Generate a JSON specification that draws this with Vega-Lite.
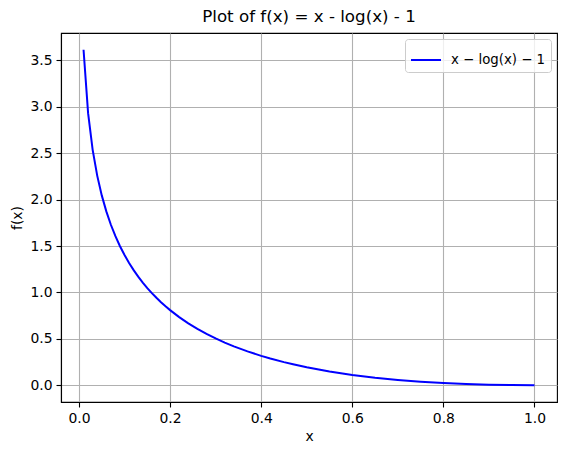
{
  "$schema": "https://vega.github.io/schema/vega-lite/v6.json",
  "width": 496,
  "height": 369,
  "autosize": {"type": "none"},
  "padding": {"left": 61, "top": 33, "right": 10, "bottom": 53},
  "background": "white",
  "title": {"text": "Plot of f(x) = x - log(x) - 1", "font": "DejaVu Sans", "fontSize": 16.7, "fontWeight": "normal", "color": "black", "offset": 7, "anchor": "middle"},
  "config": {
    "view": {"stroke": "black", "strokeWidth": 1.1},
    "axis": {
      "labelFont": "DejaVu Sans", "labelFontSize": 13.9, "labelColor": "black",
      "titleFont": "DejaVu Sans", "titleFontSize": 13.9, "titleFontWeight": "normal", "titleColor": "black",
      "tickColor": "black", "tickSize": 5, "tickWidth": 1.1, "labelPadding": 4,
      "domainColor": "black", "domainWidth": 1.1,
      "grid": true, "gridColor": "#b0b0b0", "gridWidth": 1.1, "titlePadding": 5
    }
  },
  "data": {"values": [
    {"x": 0.01, "y": 3.61517, "s": "x − log(x) − 1"},
    {"x": 0.02, "y": 2.93202, "s": "x − log(x) − 1"},
    {"x": 0.03, "y": 2.53656, "s": "x − log(x) − 1"},
    {"x": 0.04, "y": 2.25888, "s": "x − log(x) − 1"},
    {"x": 0.05, "y": 2.04573, "s": "x − log(x) − 1"},
    {"x": 0.06, "y": 1.87341, "s": "x − log(x) − 1"},
    {"x": 0.07, "y": 1.72926, "s": "x − log(x) − 1"},
    {"x": 0.08, "y": 1.60573, "s": "x − log(x) − 1"},
    {"x": 0.09, "y": 1.49795, "s": "x − log(x) − 1"},
    {"x": 0.10, "y": 1.40259, "s": "x − log(x) − 1"},
    {"x": 0.11, "y": 1.31727, "s": "x − log(x) − 1"},
    {"x": 0.12, "y": 1.24026, "s": "x − log(x) − 1"},
    {"x": 0.13, "y": 1.17022, "s": "x − log(x) − 1"},
    {"x": 0.14, "y": 1.10611, "s": "x − log(x) − 1"},
    {"x": 0.15, "y": 1.04712, "s": "x − log(x) − 1"},
    {"x": 0.16, "y": 0.99258, "s": "x − log(x) − 1"},
    {"x": 0.17, "y": 0.94196, "s": "x − log(x) − 1"},
    {"x": 0.18, "y": 0.89480, "s": "x − log(x) − 1"},
    {"x": 0.19, "y": 0.85073, "s": "x − log(x) − 1"},
    {"x": 0.20, "y": 0.80944, "s": "x − log(x) − 1"},
    {"x": 0.22, "y": 0.73413, "s": "x − log(x) − 1"},
    {"x": 0.24, "y": 0.66712, "s": "x − log(x) − 1"},
    {"x": 0.26, "y": 0.60707, "s": "x − log(x) − 1"},
    {"x": 0.28, "y": 0.55297, "s": "x − log(x) − 1"},
    {"x": 0.30, "y": 0.50397, "s": "x − log(x) − 1"},
    {"x": 0.32, "y": 0.45943, "s": "x − log(x) − 1"},
    {"x": 0.34, "y": 0.41881, "s": "x − log(x) − 1"},
    {"x": 0.37, "y": 0.36425, "s": "x − log(x) − 1"},
    {"x": 0.40, "y": 0.31629, "s": "x − log(x) − 1"},
    {"x": 0.42, "y": 0.28750, "s": "x − log(x) − 1"},
    {"x": 0.45, "y": 0.24851, "s": "x − log(x) − 1"},
    {"x": 0.47, "y": 0.22502, "s": "x − log(x) − 1"},
    {"x": 0.50, "y": 0.19315, "s": "x − log(x) − 1"},
    {"x": 0.55, "y": 0.14784, "s": "x − log(x) − 1"},
    {"x": 0.60, "y": 0.11083, "s": "x − log(x) − 1"},
    {"x": 0.65, "y": 0.08078, "s": "x − log(x) − 1"},
    {"x": 0.70, "y": 0.05667, "s": "x − log(x) − 1"},
    {"x": 0.75, "y": 0.03768, "s": "x − log(x) − 1"},
    {"x": 0.80, "y": 0.02314, "s": "x − log(x) − 1"},
    {"x": 0.85, "y": 0.01252, "s": "x − log(x) − 1"},
    {"x": 0.90, "y": 0.00536, "s": "x − log(x) − 1"},
    {"x": 0.95, "y": 0.00129, "s": "x − log(x) − 1"},
    {"x": 1.00, "y": 0.0, "s": "x − log(x) − 1"}
  ]},
  "mark": {"type": "line", "strokeWidth": 2, "clip": true},
  "encoding": {
    "x": {"field": "x", "type": "quantitative", "title": "x",
      "scale": {"domain": [-0.0395, 1.0495], "nice": false, "zero": false},
      "axis": {"values": [0, 0.2, 0.4, 0.6, 0.8, 1.0], "format": ".1f"}},
    "y": {"field": "y", "type": "quantitative", "title": "f(x)",
      "scale": {"domain": [-0.181, 3.796], "nice": false, "zero": false},
      "axis": {"values": [0, 0.5, 1, 1.5, 2, 2.5, 3, 3.5], "format": ".1f"}},
    "color": {"field": "s", "type": "nominal",
      "scale": {"range": ["#0000ff"]},
      "legend": {"title": null, "orient": "top-right", "offset": 6, "padding": 5,
        "strokeColor": "#cccccc", "fillColor": "rgba(255,255,255,0.8)", "cornerRadius": 3,
        "symbolType": "stroke", "symbolSize": 900, "symbolStrokeWidth": 2,
        "labelFont": "DejaVu Sans", "labelFontSize": 13.3, "labelColor": "black", "labelOffset": 9}}
  }
}
